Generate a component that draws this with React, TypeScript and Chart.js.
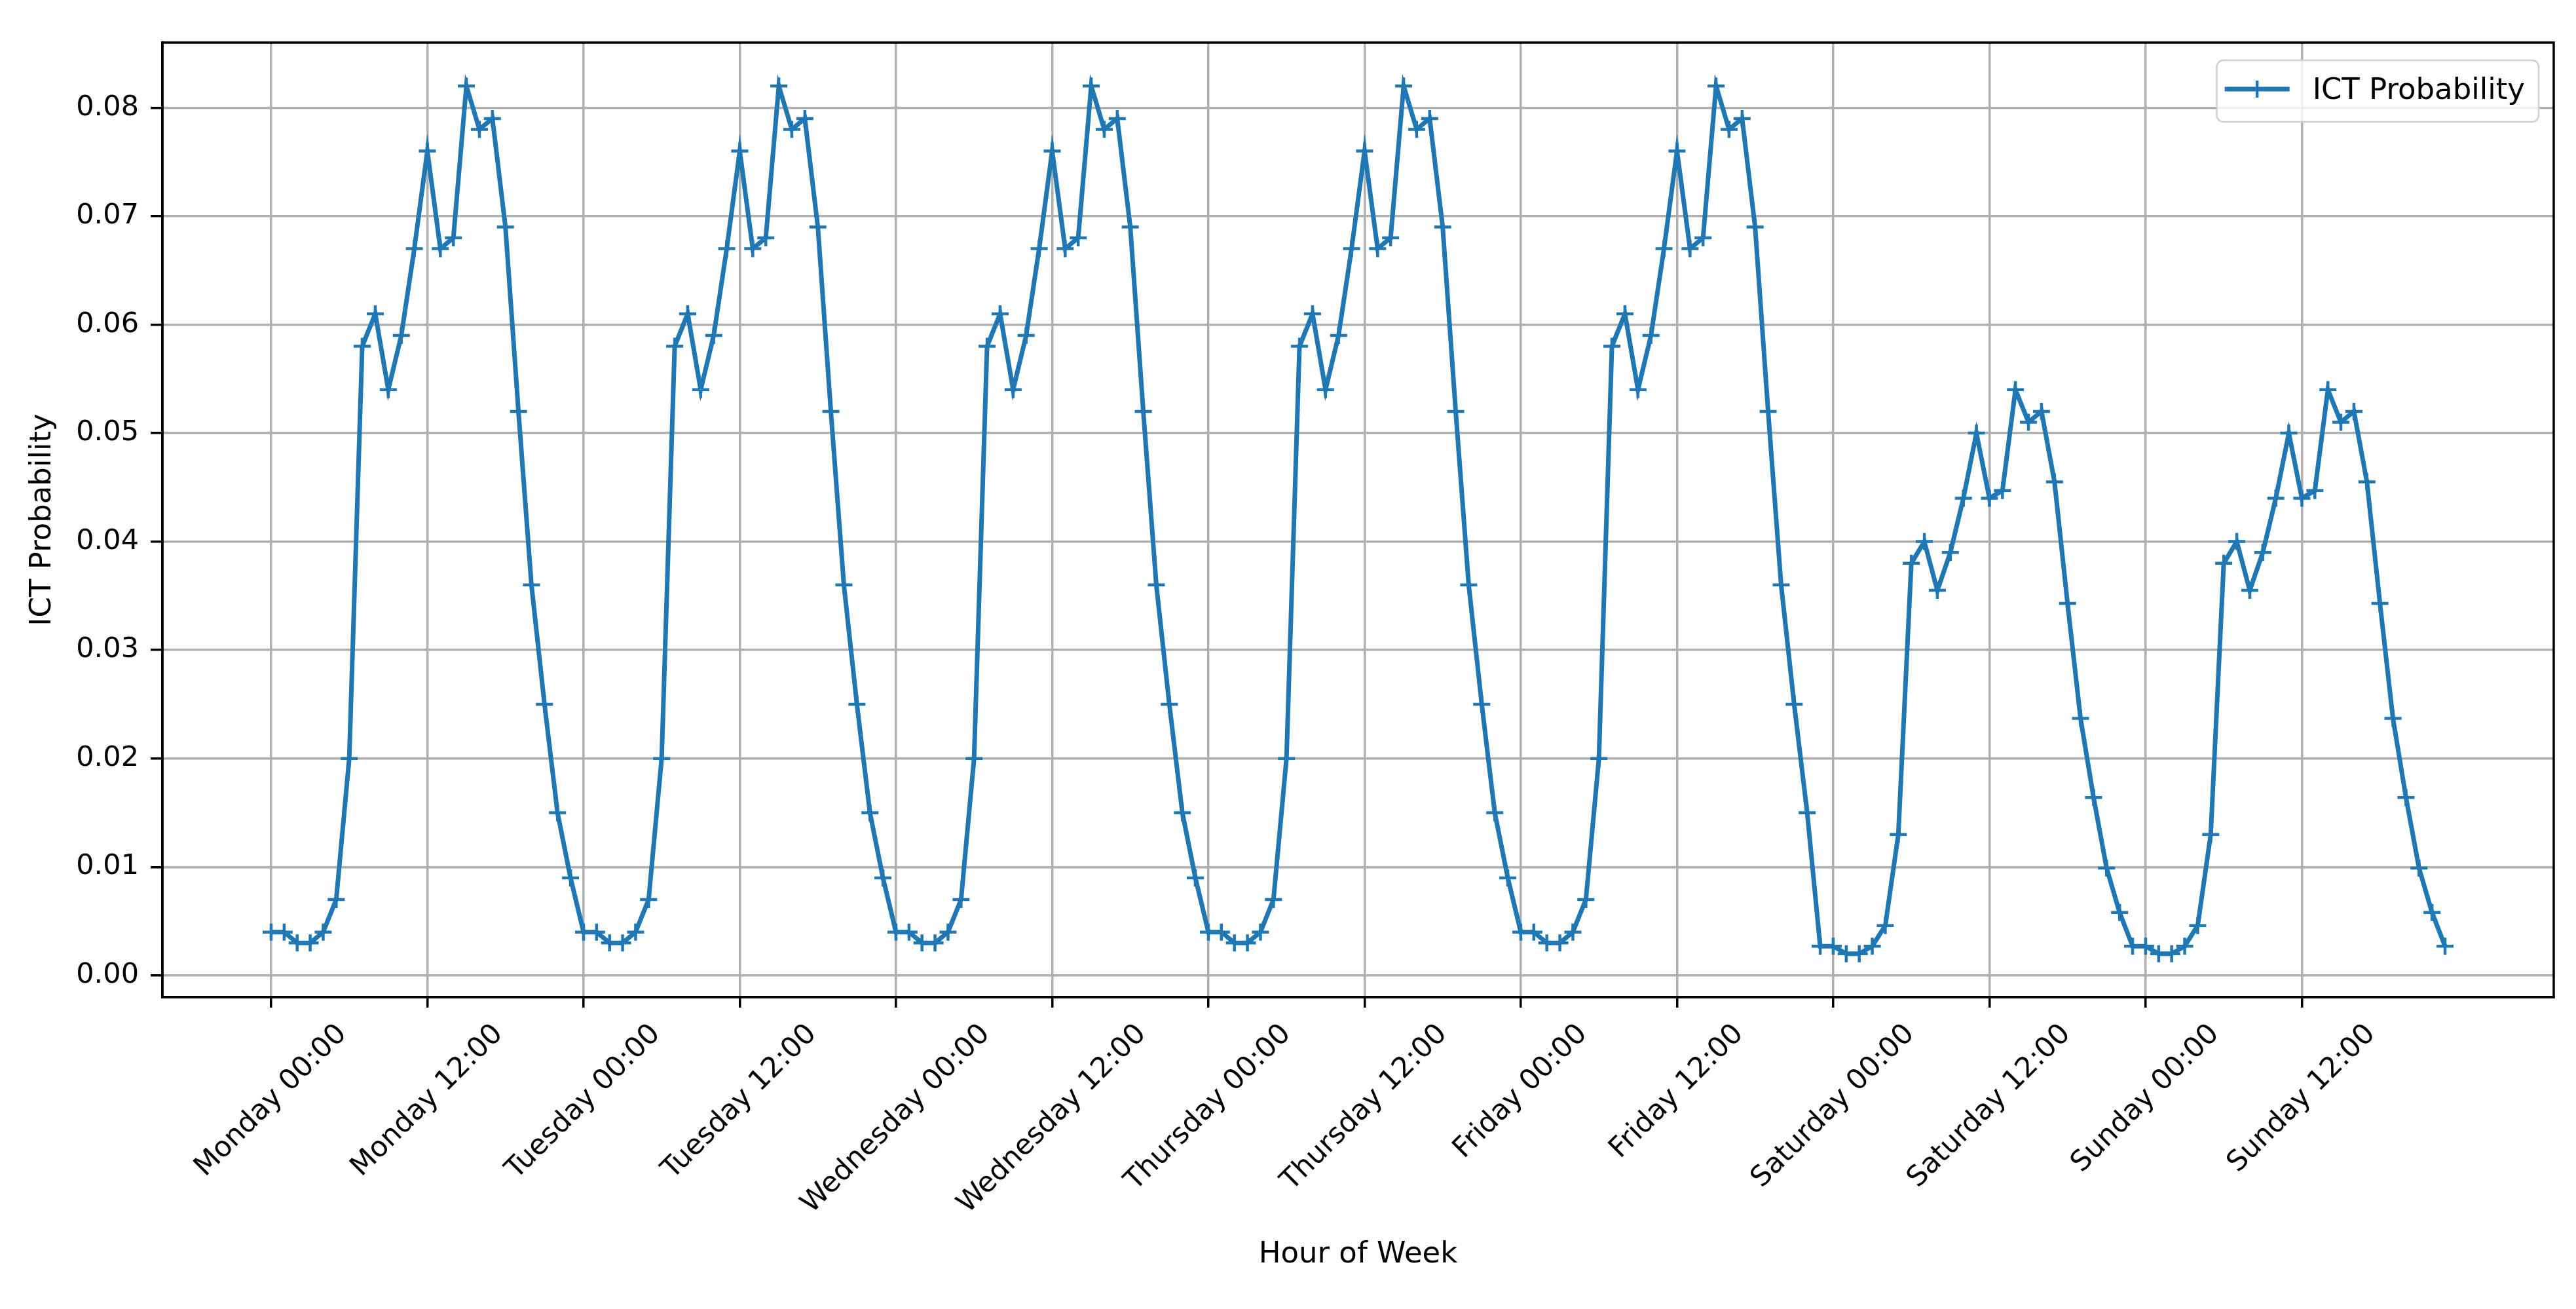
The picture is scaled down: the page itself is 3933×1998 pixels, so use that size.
import React, { useEffect, useRef } from "react";
import { Chart, registerables } from "chart.js";

Chart.register(...registerables);

const WIDTH = 3933;
const HEIGHT = 1998;
const FONT = '"DejaVu Sans", sans-serif';
const TICK_FONT = 43;
const LABEL_FONT = 45;
const LINE_COLOR = "#1f77b4";

// ICT probability per hour of the week (hour 0 = Monday 00:00)
const mondayValues = [0.004, 0.004, 0.003, 0.003, 0.004, 0.007, 0.020, 0.058, 0.061, 0.054, 0.059, 0.067, 0.076, 0.067, 0.068, 0.082, 0.078, 0.079, 0.069, 0.052, 0.036, 0.025, 0.015, 0.009];
const tuesdayValues = [0.004, 0.004, 0.003, 0.003, 0.004, 0.007, 0.020, 0.058, 0.061, 0.054, 0.059, 0.067, 0.076, 0.067, 0.068, 0.082, 0.078, 0.079, 0.069, 0.052, 0.036, 0.025, 0.015, 0.009];
const wednesdayValues = [0.004, 0.004, 0.003, 0.003, 0.004, 0.007, 0.020, 0.058, 0.061, 0.054, 0.059, 0.067, 0.076, 0.067, 0.068, 0.082, 0.078, 0.079, 0.069, 0.052, 0.036, 0.025, 0.015, 0.009];
const thursdayValues = [0.004, 0.004, 0.003, 0.003, 0.004, 0.007, 0.020, 0.058, 0.061, 0.054, 0.059, 0.067, 0.076, 0.067, 0.068, 0.082, 0.078, 0.079, 0.069, 0.052, 0.036, 0.025, 0.015, 0.009];
const fridayValues = [0.004, 0.004, 0.003, 0.003, 0.004, 0.007, 0.020, 0.058, 0.061, 0.054, 0.059, 0.067, 0.076, 0.067, 0.068, 0.082, 0.078, 0.079, 0.069, 0.052, 0.036, 0.025, 0.015, 0.0027];
const saturdayValues = [0.0027, 0.002, 0.002, 0.0027, 0.0046, 0.013, 0.038, 0.040, 0.0355, 0.039, 0.044, 0.050, 0.044, 0.0447, 0.054, 0.051, 0.052, 0.0455, 0.0343, 0.0237, 0.0164, 0.0099, 0.0058, 0.0027];
const sundayValues = [0.0027, 0.002, 0.002, 0.0027, 0.0046, 0.013, 0.038, 0.040, 0.0355, 0.039, 0.044, 0.050, 0.044, 0.0447, 0.054, 0.051, 0.052, 0.0455, 0.0343, 0.0237, 0.0164, 0.0099, 0.0058, 0.0027];

const xTickHours = [0, 12, 24, 36, 48, 60, 72, 84, 96, 108, 120, 132, 144, 156];
const xTickLabels = [
  "Monday 00:00", "Monday 12:00", "Tuesday 00:00", "Tuesday 12:00",
  "Wednesday 00:00", "Wednesday 12:00", "Thursday 00:00", "Thursday 12:00",
  "Friday 00:00", "Friday 12:00", "Saturday 00:00", "Saturday 12:00",
  "Sunday 00:00", "Sunday 12:00",
];
const yTickValues = [0, 0.01, 0.02, 0.03, 0.04, 0.05, 0.06, 0.07, 0.08];

const SERIES_LABEL = "ICT Probability";
const X_TITLE = "Hour of Week";
const Y_TITLE = "ICT Probability";

export default function App() {
  const canvasRef = useRef<HTMLCanvasElement | null>(null);

  useEffect(() => {
    const canvas = canvasRef.current;
    if (!canvas) return;

    const values = [
      ...mondayValues, ...tuesdayValues, ...wednesdayValues, ...thursdayValues,
      ...fridayValues, ...saturdayValues, ...sundayValues,
    ];
    const points = values.map((v, i) => ({ x: i, y: v }));

    const framePlugin = {
      id: "frame",
      afterDatasetsDraw(chart: any) {
        const { ctx, chartArea } = chart;
        ctx.save();
        ctx.strokeStyle = "#000";
        ctx.lineWidth = 3.5;
        ctx.strokeRect(chartArea.left, chartArea.top, chartArea.right - chartArea.left, chartArea.bottom - chartArea.top);
        ctx.restore();
      },
    };

    const xLabelPlugin = {
      id: "xRotatedLabels",
      afterDraw(chart: any) {
        const { ctx, chartArea } = chart;
        const xs = chart.scales.x;
        ctx.save();
        ctx.font = `${TICK_FONT}px ${FONT}`;
        ctx.fillStyle = "#000";
        ctx.textAlign = "center";
        ctx.textBaseline = "middle";
        xs.ticks.forEach((t: any) => {
          const idx = xTickHours.indexOf(t.value);
          if (idx < 0) return;
          const label = xTickLabels[idx];
          const px = xs.getPixelForValue(t.value);
          const w = ctx.measureText(label).width;
          const h = TICK_FONT * 1.17;
          const side = (w + h) / Math.SQRT2;
          const cy = chartArea.bottom + 16 + 16 + side / 2;
          ctx.save();
          ctx.translate(px, cy);
          ctx.rotate(-Math.PI / 4);
          ctx.fillText(label, 0, 0);
          ctx.restore();
        });
        ctx.restore();
      },
    };

    const legendPlugin = {
      id: "boxLegend",
      afterDatasetsDraw(chart: any) {
        const { ctx, chartArea } = chart;
        const ds = chart.data.datasets[0];
        ctx.save();
        ctx.font = `${LABEL_FONT}px ${FONT}`;
        const tw = ctx.measureText(ds.label).width;
        const boxRight = chartArea.right - 23;
        const boxTop = chartArea.top + 27;
        const boxH = 94;
        const textRight = boxRight - 21;
        const textLeft = textRight - tw;
        const lineEnd = textLeft - 35;
        const lineStart = lineEnd - 99;
        const boxLeft = lineStart - 12;
        const r = 10;
        ctx.beginPath();
        ctx.moveTo(boxLeft + r, boxTop);
        ctx.lineTo(boxRight - r, boxTop);
        ctx.arcTo(boxRight, boxTop, boxRight, boxTop + r, r);
        ctx.lineTo(boxRight, boxTop + boxH - r);
        ctx.arcTo(boxRight, boxTop + boxH, boxRight - r, boxTop + boxH, r);
        ctx.lineTo(boxLeft + r, boxTop + boxH);
        ctx.arcTo(boxLeft, boxTop + boxH, boxLeft, boxTop + boxH - r, r);
        ctx.lineTo(boxLeft, boxTop + r);
        ctx.arcTo(boxLeft, boxTop, boxLeft + r, boxTop, r);
        ctx.closePath();
        ctx.fillStyle = "rgba(255,255,255,0.8)";
        ctx.fill();
        ctx.strokeStyle = "#d0d0d0";
        ctx.lineWidth = 2.5;
        ctx.stroke();

        const cy = boxTop + boxH / 2 - 3;
        ctx.strokeStyle = ds.borderColor;
        ctx.lineWidth = ds.borderWidth;
        ctx.beginPath();
        ctx.moveTo(lineStart, cy);
        ctx.lineTo(lineEnd, cy);
        ctx.stroke();
        const mx = (lineStart + lineEnd) / 2;
        const mr = ds.pointRadius;
        ctx.lineWidth = ds.pointBorderWidth;
        ctx.beginPath();
        ctx.moveTo(mx - mr, cy);
        ctx.lineTo(mx + mr, cy);
        ctx.moveTo(mx, cy - mr);
        ctx.lineTo(mx, cy + mr);
        ctx.stroke();

        ctx.fillStyle = "#000";
        ctx.textAlign = "left";
        ctx.textBaseline = "middle";
        ctx.fillText(ds.label, textLeft, boxTop + boxH / 2);
        ctx.restore();
      },
    };

    const chart = new Chart(canvas, {
      type: "line",
      data: {
        datasets: [
          {
            label: SERIES_LABEL,
            data: points,
            borderColor: LINE_COLOR,
            backgroundColor: LINE_COLOR,
            borderWidth: 7,
            pointStyle: "cross",
            pointRadius: 13,
            pointBorderWidth: 4.5,
            pointBorderColor: LINE_COLOR,
            pointBackgroundColor: LINE_COLOR,
            pointHoverRadius: 13,
            tension: 0,
            fill: false,
          } as any,
        ],
      },
      options: {
        responsive: false,
        maintainAspectRatio: false,
        animation: false,
        devicePixelRatio: 1,
        events: [],
        layout: { padding: { left: 0, top: 65, right: 34, bottom: 0 } },
        plugins: {
          legend: { display: false },
          tooltip: { enabled: false },
        },
        scales: {
          x: {
            type: "linear",
            min: -8.35,
            max: 175.35,
            afterBuildTicks: (s: any) => {
              s.ticks = xTickHours.map((v) => ({ value: v }));
            },
            afterFit: (s: any) => {
              s.height = HEIGHT - 1522;
            },
            ticks: { display: false },
            grid: {
              color: "#b0b0b0",
              lineWidth: 3.5,
              drawTicks: true,
              tickLength: 16,
              tickColor: "#000",
              tickWidth: 3.5,
            },
            border: { display: true, color: "#000", width: 3.5 },
            title: {
              display: true,
              text: X_TITLE,
              color: "#000",
              font: { family: FONT, size: LABEL_FONT },
              padding: { top: 0, bottom: 56 },
            },
          },
          y: {
            type: "linear",
            min: -0.002,
            max: 0.086,
            afterBuildTicks: (s: any) => {
              s.ticks = yTickValues.map((v) => ({ value: v }));
            },
            afterFit: (s: any) => {
              s.width = 248;
            },
            ticks: {
              color: "#000",
              font: { family: FONT, size: TICK_FONT },
              padding: 18,
              callback: (v: any) => Number(v).toFixed(2),
            },
            grid: {
              color: "#b0b0b0",
              lineWidth: 3.5,
              drawTicks: true,
              tickLength: 18,
              tickColor: "#000",
              tickWidth: 3.5,
            },
            border: { display: true, color: "#000", width: 3.5 },
            title: {
              display: true,
              text: Y_TITLE,
              color: "#000",
              font: { family: FONT, size: LABEL_FONT },
              padding: { top: 38, bottom: 0 },
            },
          },
        },
      },
      plugins: [framePlugin, legendPlugin, xLabelPlugin],
    });

    return () => {
      chart.destroy();
    };
  }, []);

  return (
    <div style={{ position: "fixed", left: 0, top: 0, width: WIDTH, height: HEIGHT, background: "#fff" }}>
      <canvas ref={canvasRef} width={WIDTH} height={HEIGHT} style={{ display: "block", width: WIDTH, height: HEIGHT }} />
    </div>
  );
}
